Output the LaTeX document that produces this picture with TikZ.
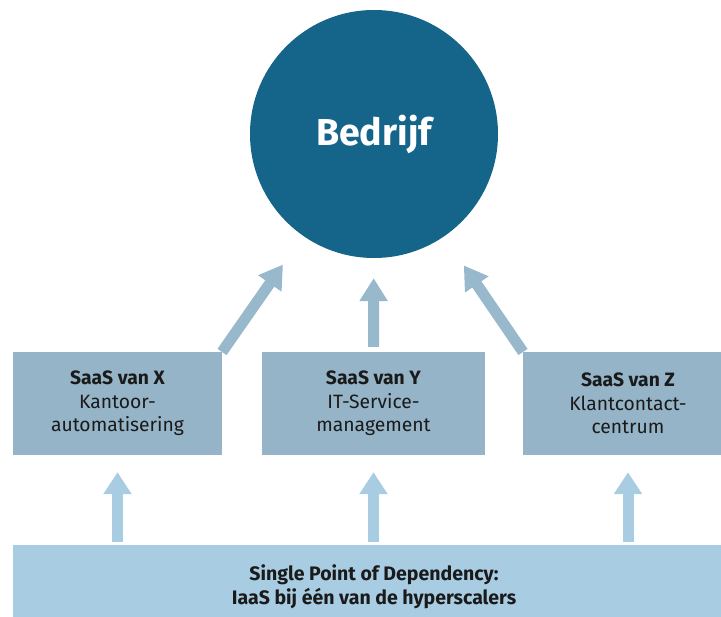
\documentclass[tikz,border=0pt]{standalone}
\usepackage{fontspec}
\setmainfont{Fira Sans}
\usetikzlibrary{arrows.meta}
\definecolor{firmblue}{HTML}{15648A}
\definecolor{saasgray}{HTML}{95B4C8}
\definecolor{liftgray}{HTML}{98B8CB}
\definecolor{basesky}{HTML}{A8CCE2}
\definecolor{inktext}{HTML}{1A1A1A}
\tikzset{
  company/.style={circle,fill=firmblue,inner sep=0pt,minimum size=248pt,
    text=white,font=\fontsize{37.5}{40}\selectfont\bfseries},
  saas box/.style={rectangle,fill=saasgray,inner sep=0pt,minimum height=103pt,
    align=center,text=inktext,font=\fontsize{19.3}{23.5}\selectfont},
  base bar/.style={rectangle,fill=basesky,inner sep=0pt,minimum width=722pt,
    minimum height=84pt,align=center,text=inktext,
    font=\fontsize{19.5}{24}\selectfont\bfseries},
  lift arrow/.style={draw=liftgray,line width=11pt,
    -{Triangle[width=27pt,length=23pt]}},
  feed arrow/.style={draw=basesky,line width=11pt,
    -{Triangle[width=27pt,length=22pt]}}
}

\begin{document}
\begin{tikzpicture}[x=1pt,y=-1pt]
  \useasboundingbox (0,0) rectangle (721,617);
  \node[company] (bedrijf) at (374,134) {Bedrijf};
  \coordinate (xtop) at (222,352);
  \coordinate (ztop) at (523,352);
  \draw[lift arrow,shorten >=35pt] (xtop) -- (bedrijf);
  \draw[lift arrow,shorten >=35pt] (ztop) -- (bedrijf);
  \node[saas box,minimum width=209pt] (x) at (117.5,403.5)
    {\textbf{SaaS van X}\\Kantoor-\\automatisering};
  \node[saas box,minimum width=223pt] (y) at (373.5,403.5)
    {\textbf{SaaS van Y}\\IT-Service-\\management};
  \node[saas box,minimum width=210pt] (z) at (628,403.5)
    {\textbf{SaaS van Z}\\Klantcontact-\\centrum};
  \node[base bar] (bar) at (374,587)
    {Single Point of Dependency:\\IaaS bij één van de hyperscalers};
  \draw[lift arrow,shorten >=20pt,shorten <=5pt] (y.north) -- (bedrijf);
  \draw[feed arrow,shorten >=17pt,shorten <=3pt] (bar.north -| x.south) -- (x.south);
  \draw[feed arrow,shorten >=17pt,shorten <=3pt] (bar.north -| y.south) -- (y.south);
  \draw[feed arrow,shorten >=17pt,shorten <=3pt] (bar.north -| z.south) -- (z.south);
\end{tikzpicture}
\end{document}
